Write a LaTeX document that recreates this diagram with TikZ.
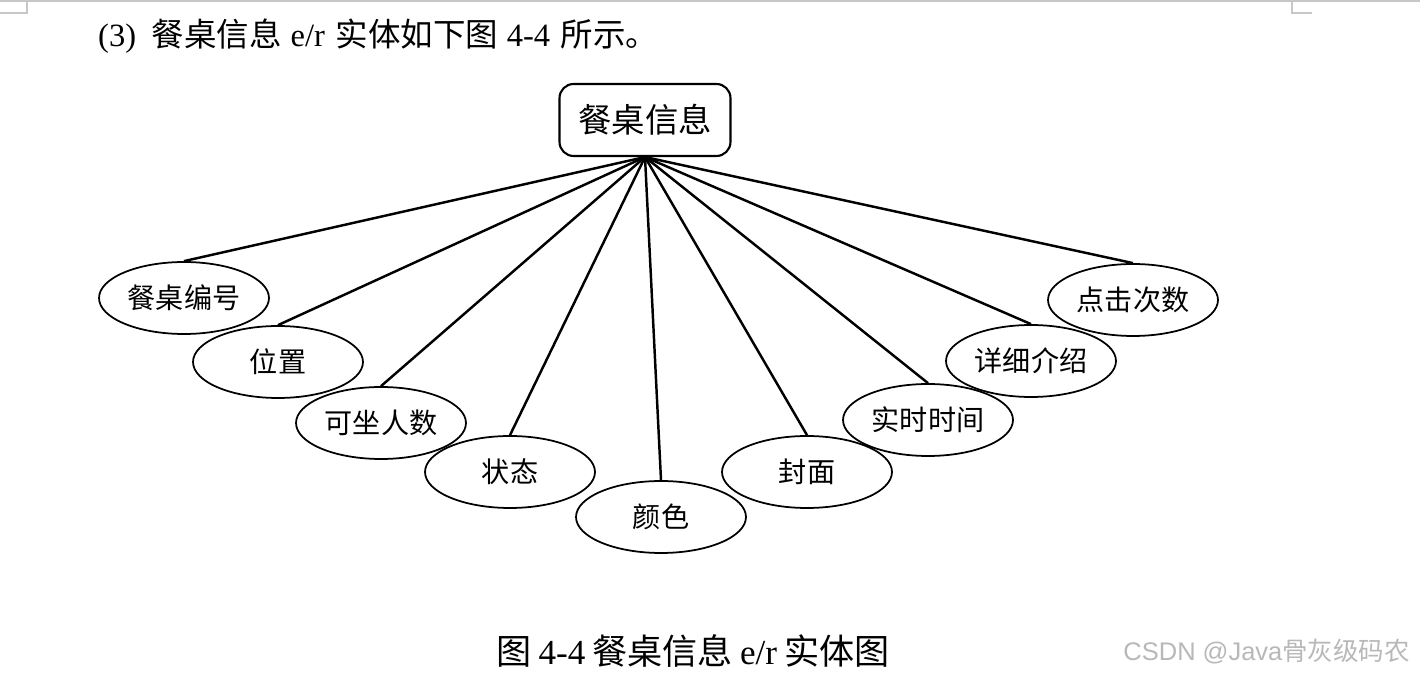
\documentclass[tikz,border=0pt]{standalone}
\usepackage{fontspec}
\setmainfont{Liberation Serif}
\newfontfamily\cjk{Noto Sans CJK SC}
\newfontfamily\wmfont{Liberation Sans}
\usetikzlibrary{positioning, shapes.geometric}
\definecolor{pagegray}{rgb}{0.78, 0.78, 0.78}
\definecolor{wmgray}{rgb}{0.72, 0.72, 0.72}

\begin{document}
\begin{tikzpicture}[x=0.02cm, y=-0.02cm,
	entity/.style={draw, line width=1.2pt, rounded corners=8pt, minimum width=3.42cm, minimum height=1.44cm, inner sep=0pt, font=\cjk\fontsize{19}{21}\selectfont},
	attr/.style={draw, ellipse, line width=1pt, minimum width=3.4cm, minimum height=1.44cm, inner sep=0pt, font=\cjk\fontsize{16}{18}\selectfont},
	link/.style={line width=1.4pt}]
		\useasboundingbox (0,0) rectangle (1420,678);
		% page marks
		\draw [pagegray, line width=0.6pt] (0,1)--(1420,1);
		\draw [pagegray, line width=0.6pt] (0,13)--(27,13)--(27,1);
		\draw [pagegray, line width=0.6pt] (1292,1)--(1292,13)--(1312,13);
		% heading
		\node [anchor=west, font=\fontsize{18.5}{21}\selectfont] (head) at (92,36)
			{(3)\hspace{9pt}{\cjk 餐桌信息}\hspace{5pt}e/r\hspace{6pt}{\cjk 实体如下图}\hspace{5pt}4-4\hspace{6pt}{\cjk 所示。}};
		% entity
		\node [entity] (table) at (645,120) {餐桌信息};
		% attributes
		\foreach \name/\x/\y/\txt in {bh/184/298/餐桌编号, wz/278/362/位置, kz/381/423/可坐人数,
				zt/510/472/状态, ys/661/517/颜色, fm/807/472/封面,
				ss/928/420/实时时间, xx/1031/361/详细介绍, dj/1133/300/点击次数}{
			\node [attr] (\name) at (\x,\y) {\txt};
			\draw [link] (table.south)--(\name.north);
		}
		% caption
		\node [font=\fontsize{20}{23}\selectfont] (caption) at (693,651)
			{{\cjk 图}\hspace{4pt}4-4\hspace{4pt}{\cjk 餐桌信息}\hspace{4pt}e/r\hspace{4pt}{\cjk 实体图}};
		\node [anchor=east, text=wmgray, font=\fontsize{14.5}{16}\selectfont] (mark) at (1416,652)
			{{\wmfont CSDN @Java}{\cjk 骨灰级码农}};
	\end{tikzpicture}
\end{document}
